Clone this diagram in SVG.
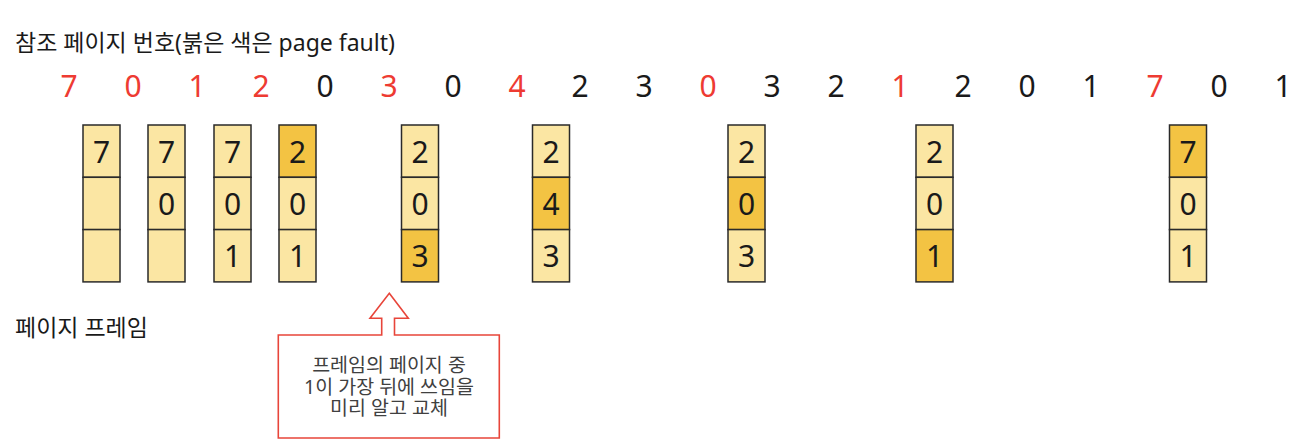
<svg xmlns="http://www.w3.org/2000/svg" width="1310" height="446" viewBox="0 0 1310 446">
<style>
text{font-family:"Noto Sans","Noto Sans CJK KR",sans-serif;}
.t{font-size:23px;fill:#1a1a1a;}
.n{font-size:30px;text-anchor:middle;}
.r{fill:#EE3B32;}
.b{fill:#1a1a1a;}
.c{stroke:#2a2a2a;stroke-width:1.5;}
.l{fill:#FBE6A3;}
.d{fill:#F3C343;}
.v{font-size:30px;text-anchor:middle;fill:#1a1a1a;}
.note{font-size:19.5px;text-anchor:middle;fill:#404040;}
</style>
<rect width="1310" height="446" fill="#fff"/>
<text id="title" class="t" x="15" y="51">참조 페이지 번호(붉은 색은 page fault)</text>
<g id="refs">
<text class="n r" x="69" y="97">7</text>
<text class="n r" x="133" y="97">0</text>
<text class="n r" x="197" y="97">1</text>
<text class="n r" x="261" y="97">2</text>
<text class="n b" x="325" y="97">0</text>
<text class="n r" x="389" y="97">3</text>
<text class="n b" x="453" y="97">0</text>
<text class="n r" x="517" y="97">4</text>
<text class="n b" x="580" y="97">2</text>
<text class="n b" x="644" y="97">3</text>
<text class="n r" x="708" y="97">0</text>
<text class="n b" x="772" y="97">3</text>
<text class="n b" x="836" y="97">2</text>
<text class="n r" x="900" y="97">1</text>
<text class="n b" x="963" y="97">2</text>
<text class="n b" x="1027" y="97">0</text>
<text class="n b" x="1091" y="97">1</text>
<text class="n r" x="1155" y="97">7</text>
<text class="n b" x="1219" y="97">0</text>
<text class="n b" x="1283" y="97">1</text>
</g>
<g id="frame1" transform="translate(83,125)">
<rect class="c l" x="0" y="0" width="37" height="52.3"/><rect class="c l" x="0" y="52.3" width="37" height="52.3"/><rect class="c l" x="0" y="104.6" width="37" height="52.3"/>
<text class="v" x="18.5" y="37.5">7</text>
</g>
<g id="frame2" transform="translate(148,125)">
<rect class="c l" x="0" y="0" width="37" height="52.3"/><rect class="c l" x="0" y="52.3" width="37" height="52.3"/><rect class="c l" x="0" y="104.6" width="37" height="52.3"/>
<text class="v" x="18.5" y="37.5">7</text><text class="v" x="18.5" y="89.8">0</text>
</g>
<g id="frame3" transform="translate(214,125)">
<rect class="c l" x="0" y="0" width="37" height="52.3"/><rect class="c l" x="0" y="52.3" width="37" height="52.3"/><rect class="c l" x="0" y="104.6" width="37" height="52.3"/>
<text class="v" x="18.5" y="37.5">7</text><text class="v" x="18.5" y="89.8">0</text><text class="v" x="18.5" y="142.1">1</text>
</g>
<g id="frame4" transform="translate(279,125)">
<rect class="c d" x="0" y="0" width="37" height="52.3"/><rect class="c l" x="0" y="52.3" width="37" height="52.3"/><rect class="c l" x="0" y="104.6" width="37" height="52.3"/>
<text class="v" x="18.5" y="37.5">2</text><text class="v" x="18.5" y="89.8">0</text><text class="v" x="18.5" y="142.1">1</text>
</g>
<g id="frame5" transform="translate(401.5,125)">
<rect class="c l" x="0" y="0" width="37" height="52.3"/><rect class="c l" x="0" y="52.3" width="37" height="52.3"/><rect class="c d" x="0" y="104.6" width="37" height="52.3"/>
<text class="v" x="18.5" y="37.5">2</text><text class="v" x="18.5" y="89.8">0</text><text class="v" x="18.5" y="142.1">3</text>
</g>
<g id="frame6" transform="translate(532.5,125)">
<rect class="c l" x="0" y="0" width="37" height="52.3"/><rect class="c d" x="0" y="52.3" width="37" height="52.3"/><rect class="c l" x="0" y="104.6" width="37" height="52.3"/>
<text class="v" x="18.5" y="37.5">2</text><text class="v" x="18.5" y="89.8">4</text><text class="v" x="18.5" y="142.1">3</text>
</g>
<g id="frame7" transform="translate(728,125)">
<rect class="c l" x="0" y="0" width="37" height="52.3"/><rect class="c d" x="0" y="52.3" width="37" height="52.3"/><rect class="c l" x="0" y="104.6" width="37" height="52.3"/>
<text class="v" x="18.5" y="37.5">2</text><text class="v" x="18.5" y="89.8">0</text><text class="v" x="18.5" y="142.1">3</text>
</g>
<g id="frame8" transform="translate(916,125)">
<rect class="c l" x="0" y="0" width="37" height="52.3"/><rect class="c l" x="0" y="52.3" width="37" height="52.3"/><rect class="c d" x="0" y="104.6" width="37" height="52.3"/>
<text class="v" x="18.5" y="37.5">2</text><text class="v" x="18.5" y="89.8">0</text><text class="v" x="18.5" y="142.1">1</text>
</g>
<g id="frame9" transform="translate(1169.5,125)">
<rect class="c d" x="0" y="0" width="37" height="52.3"/><rect class="c l" x="0" y="52.3" width="37" height="52.3"/><rect class="c l" x="0" y="104.6" width="37" height="52.3"/>
<text class="v" x="18.5" y="37.5">7</text><text class="v" x="18.5" y="89.8">0</text><text class="v" x="18.5" y="142.1">1</text>
</g>
<text id="frame-label" class="t" x="15" y="336">페이지 프레임</text>
<g id="callout">
<path d="M389.3,293.3 L408.3,318.3 L394.5,318.3 L394.5,335 L499.3,335 L499.3,438 L278.3,438 L278.3,335 L381.7,335 L381.7,318.3 L370,318.3 Z" fill="#fff" stroke="#E8453A" stroke-width="1.6" stroke-linejoin="miter"/>
<text class="note" x="389" y="372"><tspan x="389" y="372">프레임의 페이지 중</tspan><tspan x="389" y="393.5">1이 가장 뒤에 쓰임을</tspan><tspan x="389" y="415">미리 알고 교체</tspan></text>
</g>
</svg>
